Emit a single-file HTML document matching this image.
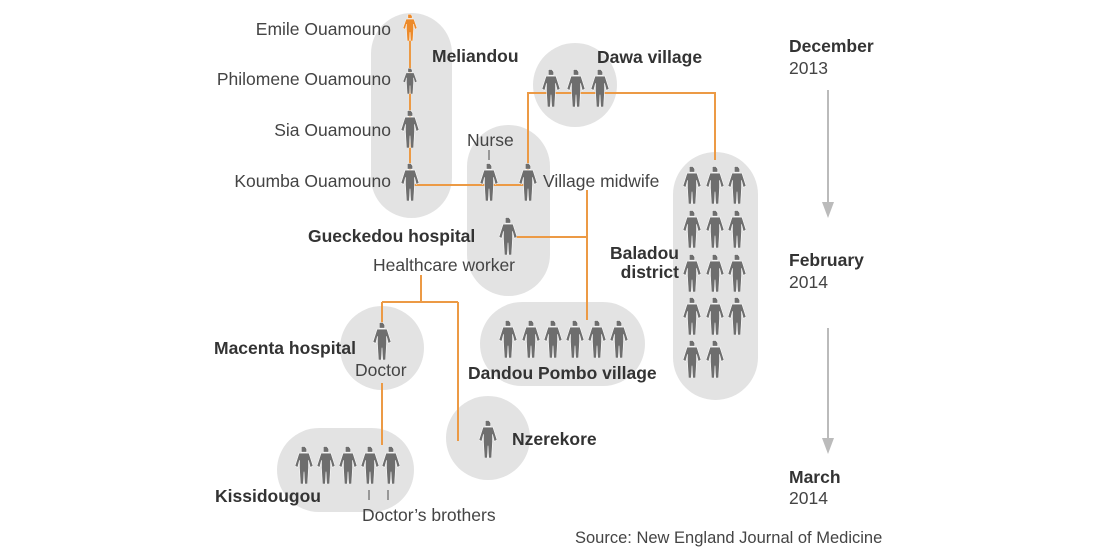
<!DOCTYPE html>
<html><head><meta charset="utf-8"><style>
body{margin:0;background:#fff}
svg{display:block}
text{font-family:"Liberation Sans",Arial,sans-serif;font-size:17.5px;fill:#444}
.b{font-weight:bold;fill:#333}
</style></head><body>
<svg width="1100" height="550" viewBox="0 0 1100 550">
<defs>
<symbol id="p" viewBox="0 0 20 40" preserveAspectRatio="none">
<path d="M7 0.5 H11 L13 3 V6.5 H7 Z"/>
<path d="M4.5 7.5 H15.5 L20 21 L17 22.5 L15 15 V23 L14 40 H10.8 L10 27 L9.2 40 H6 L5 23 V15 L3 22.5 L0 21 Z"/>
</symbol>
</defs>
<g fill="#e3e3e3">
<rect x="371" y="13" width="81" height="205" rx="40.5"/>
<rect x="467" y="125" width="83" height="171" rx="41.5"/>
<circle cx="575" cy="85" r="42"/>
<rect x="673" y="152" width="85" height="248" rx="42.5"/>
<circle cx="382" cy="348" r="42"/>
<rect x="480" y="302" width="165" height="84" rx="42"/>
<circle cx="488" cy="438" r="42"/>
<rect x="277" y="428" width="137" height="84" rx="42"/>
</g>
<g stroke="#ec9a45" stroke-width="2" fill="none">
<path d="M410 40 V185 H528"/>
<path d="M528 170 V93 H715 V160"/>
<path d="M515 237 H587 V190"/>
<path d="M587 237 V320"/>
<path d="M421 275 V302 M382 302 H458 M382 302 V325 M458 302 V441"/>
<path d="M382 383 V445"/>
</g>
<g stroke="#666" stroke-width="1.2">
<path d="M489 150 V160 M369 490 V500 M388 490 V500"/>
</g>
<g fill="#6e6e6e" stroke="#fff" stroke-width="0.6">
<use href="#p" x="403" y="68" width="14" height="26" />
<use href="#p" x="401" y="110" width="18" height="38"/>
<use href="#p" x="401" y="163" width="18" height="38"/>
<use href="#p" x="480" y="163" width="18" height="38"/>
<use href="#p" x="519" y="163" width="18" height="38"/>
<use href="#p" x="499" y="217" width="18" height="38"/>
<use href="#p" x="542" y="69" width="18" height="38"/>
<use href="#p" x="567" y="69" width="18" height="38"/>
<use href="#p" x="591" y="69" width="18" height="38"/>
<use href="#p" x="683" y="166" width="18" height="38"/><use href="#p" x="706" y="166" width="18" height="38"/><use href="#p" x="728" y="166" width="18" height="38"/>
<use href="#p" x="683" y="210" width="18" height="38"/><use href="#p" x="706" y="210" width="18" height="38"/><use href="#p" x="728" y="210" width="18" height="38"/>
<use href="#p" x="683" y="254" width="18" height="38"/><use href="#p" x="706" y="254" width="18" height="38"/><use href="#p" x="728" y="254" width="18" height="38"/>
<use href="#p" x="683" y="297" width="18" height="38"/><use href="#p" x="706" y="297" width="18" height="38"/><use href="#p" x="728" y="297" width="18" height="38"/>
<use href="#p" x="683" y="340" width="18" height="38"/><use href="#p" x="706" y="340" width="18" height="38"/>
<use href="#p" x="373" y="322" width="18" height="38"/>
<use href="#p" x="499" y="320" width="18" height="38"/><use href="#p" x="522" y="320" width="18" height="38"/><use href="#p" x="544" y="320" width="18" height="38"/><use href="#p" x="566" y="320" width="18" height="38"/><use href="#p" x="588" y="320" width="18" height="38"/><use href="#p" x="610" y="320" width="18" height="38"/>
<use href="#p" x="479" y="420" width="18" height="38"/>
<use href="#p" x="295" y="446" width="18" height="38"/><use href="#p" x="317" y="446" width="18" height="38"/><use href="#p" x="339" y="446" width="18" height="38"/><use href="#p" x="361" y="446" width="18" height="38"/><use href="#p" x="382" y="446" width="18" height="38"/>
</g>
<use href="#p" x="403" y="14" width="14" height="27" fill="#ec8a2a" stroke="#fff" stroke-width="0.6"/>
<g stroke="#bbb" stroke-width="2"><path d="M828 90 V205 M828 328 V442"/></g>
<g fill="#bbb"><path d="M822 202 H834 L828 218 Z M822 438 H834 L828 454 Z"/></g>
<text x="391" y="35" text-anchor="end">Emile Ouamouno</text>
<text x="391" y="85" text-anchor="end">Philomene Ouamouno</text>
<text x="391" y="136" text-anchor="end">Sia Ouamouno</text>
<text x="391" y="187" text-anchor="end">Koumba Ouamouno</text>
<text x="432" y="62" class="b">Meliandou</text>
<text x="597" y="63" class="b">Dawa village</text>
<text x="467" y="146">Nurse</text>
<text x="543" y="187">Village midwife</text>
<text x="308" y="242" class="b">Gueckedou hospital</text>
<text x="373" y="271">Healthcare worker</text>
<text x="679" y="259" class="b" text-anchor="end">Baladou</text>
<text x="679" y="278" class="b" text-anchor="end">district</text>
<text x="214" y="354" class="b">Macenta hospital</text>
<text x="355" y="376">Doctor</text>
<text x="468" y="379" class="b">Dandou Pombo village</text>
<text x="512" y="445" class="b">Nzerekore</text>
<text x="215" y="502" class="b">Kissidougou</text>
<text x="362" y="521">Doctor’s brothers</text>
<text x="789" y="52" class="b">December</text>
<text x="789" y="74">2013</text>
<text x="789" y="266" class="b">February</text>
<text x="789" y="288">2014</text>
<text x="789" y="483" class="b">March</text>
<text x="789" y="504">2014</text>
<text x="575" y="543" style="font-size:16.5px">Source: New England Journal of Medicine</text>
</svg>
</body></html>
